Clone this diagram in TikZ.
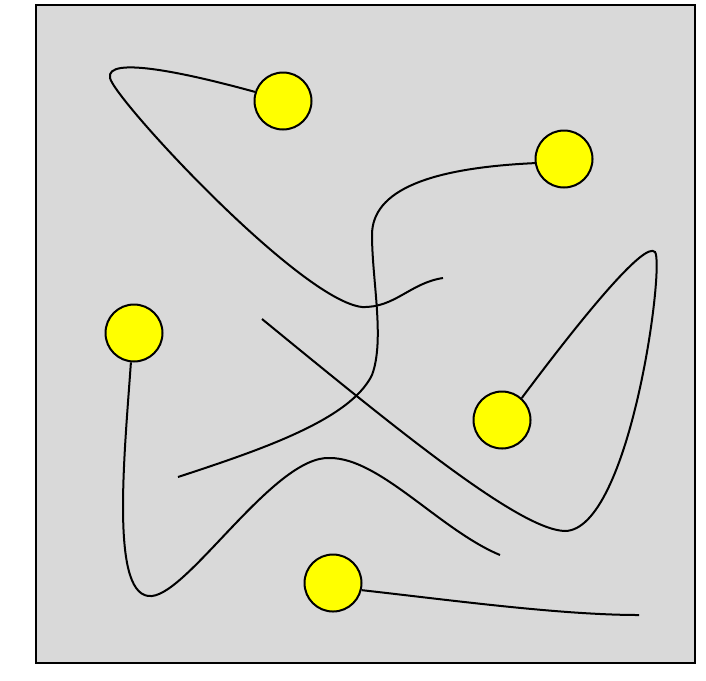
\documentclass[tikz,border=0pt]{standalone}
\usepackage{tikz}
\usetikzlibrary{calc}
\definecolor{ink}{HTML}{000000}
\definecolor{pane}{HTML}{D9D9D9}
\definecolor{bead}{HTML}{FFFF00}
\tikzset{
  every picture/.style={line width=0.5mm,draw=ink},
  frame/.style={draw=ink,fill=pane,line width=0.55mm},
  ball/.style={circle,draw=ink,fill=bead,minimum size=14.25mm,inner sep=0pt},
  wire/.style={draw=ink,line width=0.5mm},
}
\begin{document}
\begin{tikzpicture}[x=0.25mm,y=-0.25mm]
  \useasboundingbox (0,0) rectangle (706,680);
  \draw[frame] (36,5) rectangle (695,663);
  \node[ball] (a) at (283,101) {};
  \node[ball] (b) at (564,159) {};
  \node[ball] (c) at (134,333) {};
  \node[ball] (d) at (502,420) {};
  \node[ball] (e) at (333,583) {};
  \coordinate (a1) at (110,78);
  \coordinate (a2) at (362,307);
  \coordinate (a3) at (443,278);
  \coordinate (b1) at (372,235);
  \coordinate (b2) at (372,375);
  \coordinate (b3) at (178,477);
  \coordinate (c1) at (152,596);
  \coordinate (c2) at (330,458);
  \coordinate (c3) at (500,555);
  \coordinate (d1) at (655,252);
  \coordinate (d2) at (565,531);
  \coordinate (d3) at (262,319);
  \coordinate (e1) at (639,615);
  \draw[wire] (a.162) .. controls (190,74) and (105,55) .. (a1)
    .. controls (115,100) and (300,300) .. (a2)
    .. controls (395,308) and (410,283) .. (a3);
  \draw[wire] (b.188) .. controls (430,168) and (372,190) .. (b1)
    .. controls (372,280) and (385,340) .. (b2)
    .. controls (350,420) and (260,450) .. (b3);
  \draw[wire] (c.264) .. controls (124,460) and (110,600) .. (c1)
    .. controls (190,592) and (275,455) .. (c2)
    .. controls (380,458) and (440,530) .. (c3);
  \draw[wire] (d.48) .. controls (580,320) and (645,240) .. (d1)
    .. controls (665,265) and (630,530) .. (d2)
    .. controls (520,530) and (400,432) .. (d3);
  \draw[wire] (e.346) .. controls (450,600) and (560,615) .. (e1);
\end{tikzpicture}
\end{document}
